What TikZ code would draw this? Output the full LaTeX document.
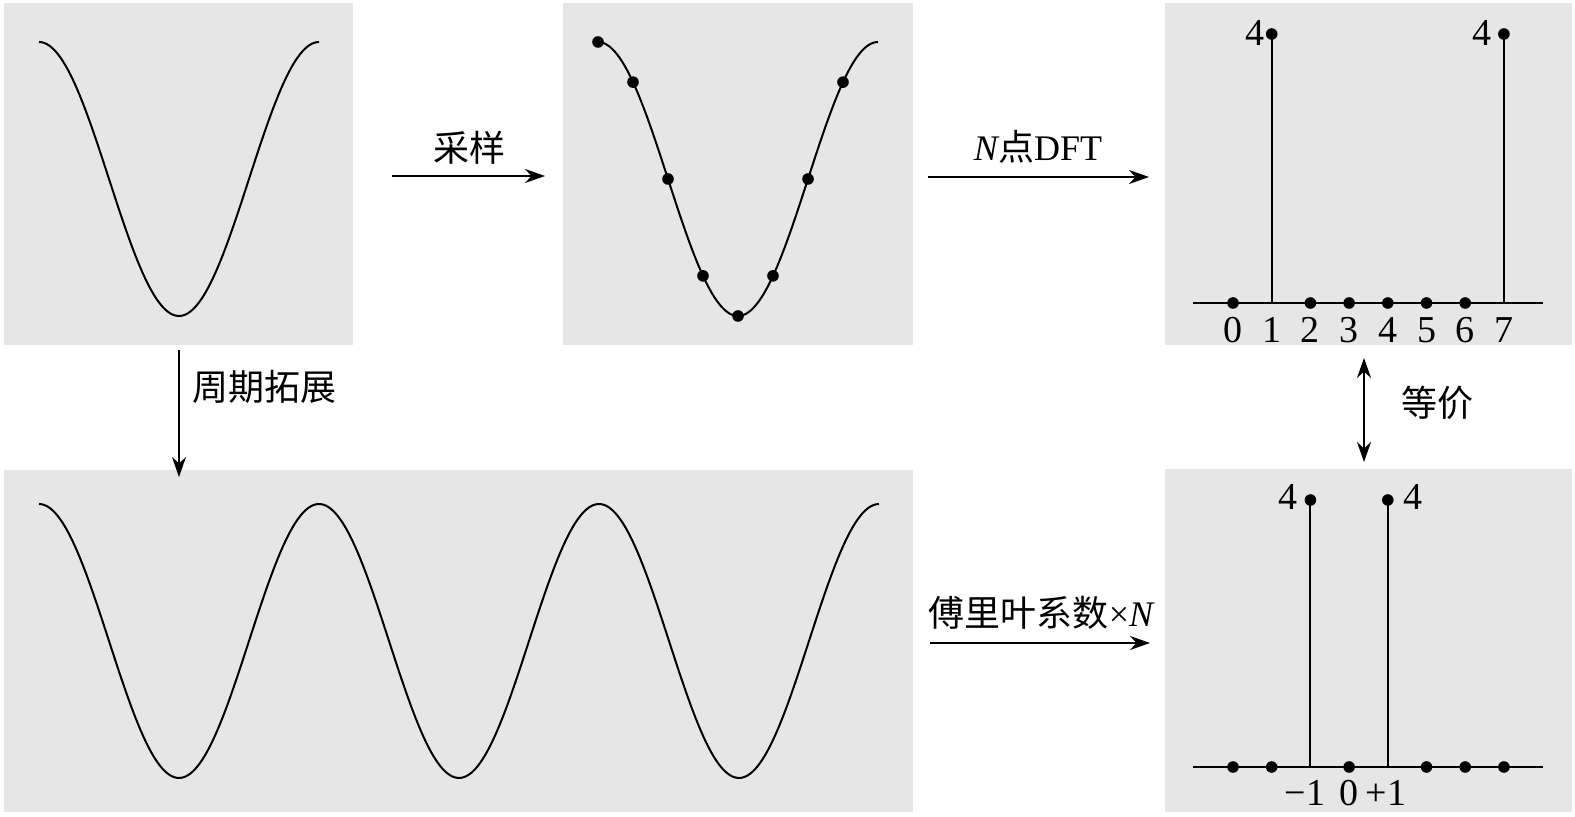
\documentclass[tikz,border=0pt]{standalone}
\usepackage{fontspec}
\setmainfont{Liberation Serif}
\newfontfamily\cjk{Noto Sans CJK SC}
\usetikzlibrary{arrows.meta}
\definecolor{panelgray}{HTML}{E6E6E6}
\begin{document}
\begin{tikzpicture}[x=0.5pt,y=-0.5pt,
  panel/.style={fill=panelgray},
  curve/.style={line width=1pt, line join=round},
  conn/.style={line width=0.9pt, -{Stealth[length=10pt,width=7pt]}},
  dconn/.style={line width=0.9pt, {Stealth[length=10pt,width=7pt]}-{Stealth[length=10pt,width=7pt]}},
  lbl/.style={inner sep=0pt, font=\fontsize{18}{20}\selectfont},
  num/.style={inner sep=0pt, font=\fontsize{19}{22}\selectfont},
  dot/.style={circle, fill=black, inner sep=0pt, minimum size=5.8pt},
  stem/.style={line width=1pt}]
\useasboundingbox (0,0) rectangle (1575,817);
\fill[white] (0,0) rectangle (1575,817);
% panels
\fill[panel] (4,3) rectangle (353,345);
\fill[panel] (563,3) rectangle (913,345);
\fill[panel] (1165,3) rectangle (1572,345);
\fill[panel] (1165,469) rectangle (1572,812);
\fill[panel] (4,470) rectangle (913,812);
% panel A: one period
\draw[curve] plot[domain=0:280, samples=120, smooth] ({39+\x},{179-137*cos(\x*1.2857143)});
% panel B: sampled period
\draw[curve] plot[domain=0:280, samples=120, smooth] ({598+\x},{179-137*cos(\x*1.2857143)});
\foreach \k in {0,...,7} \node[dot] (s\k) at ({598+35*\k},{179-137*cos(\k*45)}) {};
% panel E: three periods
\draw[curve] plot[domain=0:840, samples=300, smooth] ({39+\x},{641-137*cos(\x*1.2857143)});
% panel C: DFT
\coordinate (caxL) at (1193,303);
\coordinate (caxR) at (1543,303);
\draw[stem] (caxL) -- (caxR);
\foreach \k in {0,2,3,4,5,6} \node[dot] (cd\k) at ({1233+38.7*\k},303) {};
\coordinate (cb1) at ({1233+38.7*1},303);
\coordinate (cb7) at ({1233+38.7*7},303);
\node[dot] (ct1) at ({1233+38.7*1},34) {};
\node[dot] (ct7) at ({1233+38.7*7},34) {};
\draw[stem] (cb1) -- (ct1.center);
\draw[stem] (cb7) -- (ct7.center);
\foreach \k in {0,...,7} \node[num] (cl\k) at ({1233+38.7*\k},330) {\k};
\node[num] (cv1) at (1255,33) {4};
\node[num] (cv7) at (1482,33) {4};
% panel D: Fourier coefficients
\coordinate (daxL) at (1193,767);
\coordinate (daxR) at (1543,767);
\draw[stem] (daxL) -- (daxR);
\foreach \k in {0,1,3,5,6,7} \node[dot] (dd\k) at ({1233+38.7*\k},767) {};
\coordinate (db2) at ({1233+38.7*2},767);
\coordinate (db4) at ({1233+38.7*4},767);
\node[dot] (dt2) at ({1233+38.7*2},500) {};
\node[dot] (dt4) at ({1233+38.7*4},500) {};
\draw[stem] (db2) -- (dt2.center);
\draw[stem] (db4) -- (dt4.center);
\node[num] (dv2) at (1288,497) {4};
\node[num] (dv4) at (1413,497) {4};
\node[num] (dlm) at (1305,793) {−1};
\node[num] (dl0) at (1349,793) {0};
\node[num] (dlp) at (1386,793) {+1};
% connectors
\coordinate (a1s) at (392,176); \coordinate (a1e) at (545,176);
\draw[conn] (a1s) -- (a1e);
\node[lbl] (l1) at (469,148) {\cjk 采样};
\coordinate (a2s) at (928,177); \coordinate (a2e) at (1149,177);
\draw[conn] (a2s) -- (a2e);
\node[lbl] (l2) at (1038,147) {{\itshape N}\cjk 点\rmfamily DFT};
\coordinate (a3s) at (179,350); \coordinate (a3e) at (179,477);
\draw[conn] (a3s) -- (a3e);
\node[lbl, anchor=west] (l3) at (192,387) {\cjk 周期拓展};
\coordinate (a4s) at (1364,358); \coordinate (a4e) at (1364,462);
\draw[dconn] (a4s) -- (a4e);
\node[lbl] (l4) at (1437,403) {\cjk 等价};
\coordinate (a5s) at (930,643); \coordinate (a5e) at (1150,643);
\draw[conn] (a5s) -- (a5e);
\node[lbl] (l5) at (1041,613) {{\cjk 傅里叶系数}×{\itshape N}};
\end{tikzpicture}
\end{document}
